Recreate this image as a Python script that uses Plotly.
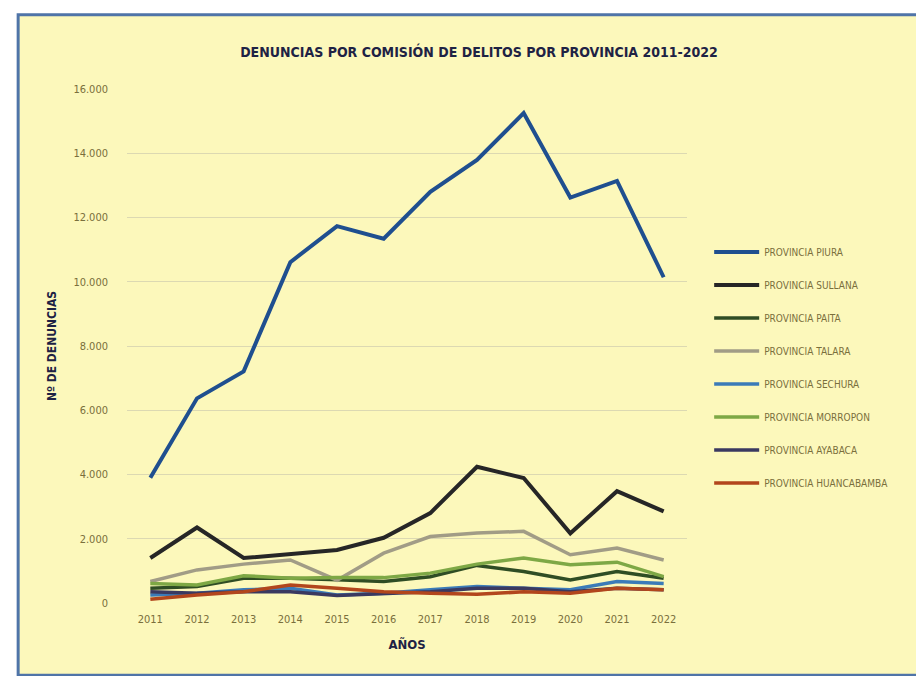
import plotly.graph_objects as go

# años y denuncias
years = [2011, 2012, 2013, 2014, 2015, 2016, 2017, 2018, 2019, 2020, 2021, 2022]

piura = [3900, 6370, 7210, 10610, 11730, 11340, 12800, 13790, 15250, 12620, 13140, 10140]
sullana = [1400, 2350, 1400, 1520, 1650, 2030, 2800, 4240, 3890, 2170, 3480, 2850]
paita = [460, 510, 770, 770, 720, 670, 820, 1170, 980, 720, 980, 770]
talara = [670, 1030, 1210, 1340, 710, 1550, 2070, 2180, 2230, 1500, 1710, 1340]
sechura = [250, 300, 410, 460, 250, 300, 410, 510, 460, 410, 670, 610]
morropon = [610, 560, 850, 770, 790, 790, 930, 1210, 1400, 1190, 1270, 820]
ayabaca = [350, 300, 350, 350, 230, 300, 350, 460, 460, 350, 460, 410]
huancabamba = [120, 250, 350, 560, 460, 350, 300, 270, 350, 300, 460, 410]

names = ["PROVINCIA PIURA", "PROVINCIA SULLANA", "PROVINCIA PAITA", "PROVINCIA TALARA",
         "PROVINCIA SECHURA", "PROVINCIA MORROPON", "PROVINCIA AYABACA", "PROVINCIA HUANCABAMBA"]
series = [piura, sullana, paita, talara, sechura, morropon, ayabaca, huancabamba]
colors = ["#1f4f8f", "#262626", "#2f4d24", "#a19c86", "#3b7bb8", "#7ea845", "#3a3960", "#b2461c"]
widths = [4, 4, 3.5, 3.5, 3.5, 3.5, 3.5, 3.5]

font_narrow = "DejaVu Sans Condensed, Liberation Sans Narrow, sans-serif"

fig = go.Figure()
for name, vals, col, w in zip(names, series, colors, widths):
    fig.add_trace(go.Scatter(x=years, y=vals, mode="lines", name=name,
                             line=dict(color=col, width=w), legendgroup=name))

# pixel -> paper helpers (plot area 119..679 x 83..595)
def px(v):
    return (v - 119) / 560.8

def py(v):
    return (595 - v) / 512

fig.add_shape(type="rect", xref="paper", yref="paper", layer="below",
              x0=px(10), x1=px(917), y0=py(667), y1=py(9),
              fillcolor="#fcf8bb", line=dict(color="#4f74a8", width=3))

fig.update_layout(
    width=924, height=676,
    paper_bgcolor="white", plot_bgcolor="rgba(0,0,0,0)",
    margin=dict(l=119, r=245, t=81, b=81),
    separators=",.",
    title=dict(text="<b>DENUNCIAS POR COMISIÓN DE DELITOS POR PROVINCIA 2011-2022</b>",
               xref="container", x=471 / 924, xanchor="center",
               y=1 - 44 / 676, yanchor="middle",
               font=dict(family=font_narrow, size=14, color="#1e2244")),
    legend=dict(x=px(702), y=py(231), xanchor="left", yanchor="top",
                bgcolor="rgba(0,0,0,0)", traceorder="grouped", tracegroupgap=14,
                itemwidth=45,
                font=dict(family=font_narrow, size=10, color="#7a6f3c")),
    showlegend=True,
)

fig.update_xaxes(range=[2010.5, 2022.5], tickvals=years, ticktext=[str(y) for y in years],
                 showgrid=False, zeroline=False, showline=False, ticks="",
                 ticklabelstandoff=8,
                 tickfont=dict(family=font_narrow, size=11, color="#7a6f3c"),
                 title=dict(text="<b>AÑOS</b>", standoff=14,
                            font=dict(family=font_narrow, size=13, color="#1e2244")))
fig.update_yaxes(range=[0, 16000], tickvals=list(range(0, 16001, 2000)), tickformat=",d",
                 showgrid=True, gridcolor="#dcd9b2", gridwidth=1, zeroline=False,
                 showline=False, ticks="", ticklabelstandoff=18,
                 tickfont=dict(family=font_narrow, size=11, color="#7a6f3c"),
                 title=dict(text="<b>Nº DE DENUNCIAS</b>", standoff=14,
                            font=dict(family=font_narrow, size=12, color="#1e2244")))

fig.write_html("out.html")
